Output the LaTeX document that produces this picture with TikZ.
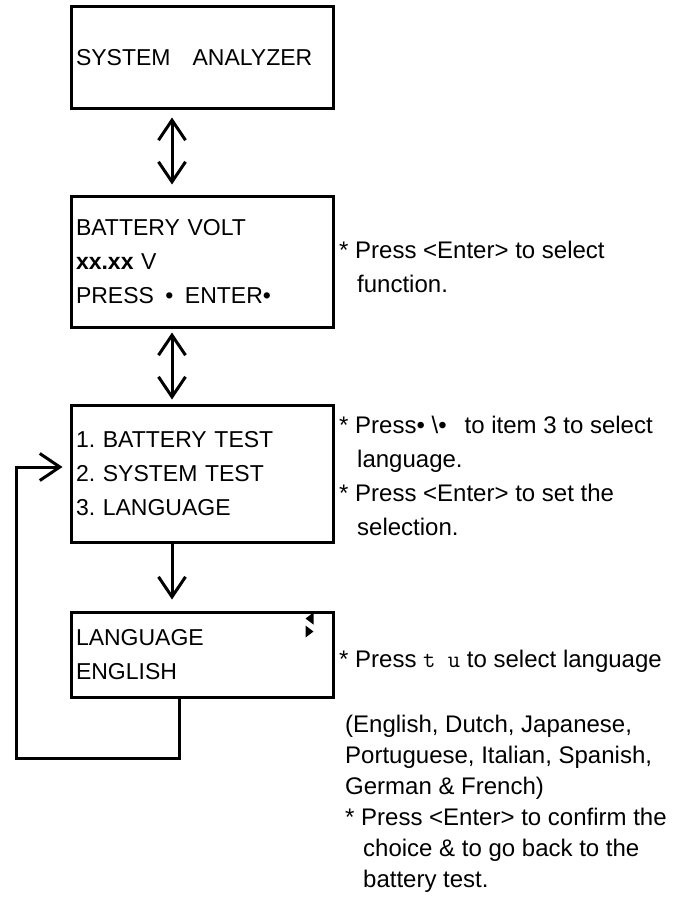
\documentclass[tikz,border=0pt]{standalone}
\usepackage{fontspec}
\setmainfont{Liberation Sans}
\usetikzlibrary{arrows.meta,positioning}

\tikzset{
  barb/.tip={Straight Barb[length=20pt,width=27pt]},
  screen/.style={draw,line width=3pt,minimum width=262pt,text width=252pt,
    align=left,inner xsep=5pt,font=\fontsize{23}{34}\selectfont},
  note/.style={anchor=north west,align=left,inner sep=0pt,font=\fontsize{24}{34}\selectfont},
  link/.style={line width=3pt,-barb},
  both/.style={line width=3pt,barb-barb}
}
\newcommand{\cont}{\hspace*{18pt}}
\frenchspacing

\begin{document}
\begin{tikzpicture}[x=1pt,y=-1pt]
  \useasboundingbox (0,0) rectangle (690,899);

  % display screens
  \node[screen,minimum height=101pt] (sys) at (202,57.5) {SYSTEM\hspace{22pt}ANALYZER};
  \node[screen,minimum height=131pt,below=85pt of sys] (volt)
    {BATTERY VOLT\\\textbf{xx.xx} V\\PRESS \,•\, ENTER•};
  \node[screen,minimum height=137pt,below=75pt of volt] (menu)
    {1. BATTERY TEST\\2. SYSTEM TEST\\3. LANGUAGE};
  \node[screen,minimum height=85pt,below=67pt of menu] (lang) {LANGUAGE\\ENGLISH};

  % scroll marks
  \fill ([shift={(-21,2)}]lang.north east) -- ++(0,12) -- ++(-8,-6) -- cycle;
  \fill ([shift={(-29,15)}]lang.north east) -- ++(0,12) -- ++(8,-6) -- cycle;

  % connectors
  \draw[both,shorten <=8pt,shorten >=10pt] ([xshift=-30pt]sys.south) -- ([xshift=-30pt]volt.north);
  \draw[both,shorten <=4pt,shorten >=4pt] ([xshift=-30pt]volt.south) -- ([xshift=-30pt]menu.north);
  \draw[link,shorten >=11pt] ([xshift=-30pt]menu.south) -- ([xshift=-30pt]lang.north);
  \coordinate (ret) at ([xshift=-23pt]lang.south);
  \draw[link,shorten >=7pt] (ret) -- ++(0,60) -| (16,467) -- ([yshift=6.5pt]menu.west);

  % notes
  \node[note] (n1) at (339,241) {* Press <Enter> to select\\\cont function.};
  \node[note] (n2) at (339,416)
    {* Press• \textbackslash•\hspace{18pt}to item 3 to select\\\cont language.\\
     * Press <Enter> to set the\\\cont selection.};
  \node[note] (n3) at (339,650) {* Press {\ttfamily t u} to select language};
  \node[note,font=\fontsize{24}{31}\selectfont] (n4) at (345,715)
    {(English, Dutch, Japanese,\\Portuguese, Italian, Spanish,\\German \& French)\\
     * Press <Enter> to confirm the\\\cont choice \& to go back to the\\\cont battery test.};
\end{tikzpicture}
\end{document}
